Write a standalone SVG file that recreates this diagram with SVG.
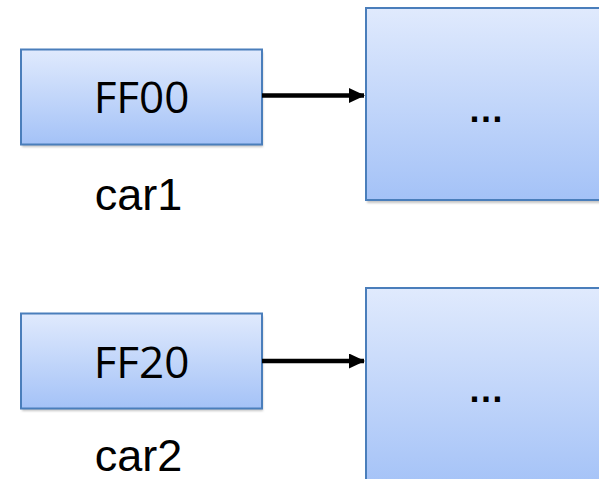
<svg xmlns="http://www.w3.org/2000/svg" width="599" height="479" viewBox="0 0 599 479">
  <defs>
    <linearGradient id="boxFill" x1="0" y1="0" x2="0" y2="1">
      <stop offset="0" stop-color="#e0eafd"/>
      <stop offset="1" stop-color="#a4c2f7"/>
    </linearGradient>
    <filter id="shadow" x="-10%" y="-10%" width="130%" height="130%">
      <feGaussianBlur stdDeviation="1"/>
    </filter>
    <marker id="arrowHead" markerWidth="16" markerHeight="15" refX="15" refY="7.5" orient="auto" markerUnits="userSpaceOnUse">
      <path d="M0,0 L16,7.5 L0,15 Z" fill="#000"/>
    </marker>
    <marker id="arrowHeadShade" markerWidth="16" markerHeight="15" refX="15" refY="7.5" orient="auto" markerUnits="userSpaceOnUse">
      <path d="M0,0 L16,7.5 L0,15 Z" fill="#c8c8c8"/>
    </marker>
  </defs>
  <style>
    .box { fill: url(#boxFill); stroke: #4a7ebb; stroke-width: 2; }
    .shade { fill: #c4c4c4; filter: url(#shadow); }
    .addr { font-family: "Open Sans", "Noto Sans", sans-serif; font-size: 44px; fill: #000; text-anchor: middle; }
    .dots { font-family: "Liberation Sans", Arial, sans-serif; font-weight: bold; font-size: 36px; fill: #000; text-anchor: middle; }
    .name { font-family: "Liberation Sans", Arial, sans-serif; font-size: 45px; fill: #000; text-anchor: middle; }
    .link { stroke: #000; stroke-width: 4.5; fill: none; marker-end: url(#arrowHead); }
    .linkShade { stroke: #c8c8c8; stroke-width: 4.5; fill: none; filter: url(#shadow); marker-end: url(#arrowHeadShade); }
  </style>

  <rect width="599" height="479" fill="#fff"/>

  <!-- pointer cell car1 -->
  <g id="car1">
    <rect class="shade" x="22" y="52" width="241" height="95"/>
    <rect class="box" x="21" y="49.5" width="241" height="95"/>
    <text class="addr" x="141.5" y="113">FF00</text>
    <text class="name" x="138.5" y="209.5">car1</text>
  </g>

  <!-- object referenced by car1 -->
  <g id="object1">
    <rect class="shade" x="367" y="11" width="240" height="192"/>
    <rect class="box" x="366" y="8" width="240" height="192"/>
    <text class="dots" x="486" y="122">…</text>
  </g>

  <!-- pointer cell car2 -->
  <g id="car2">
    <rect class="shade" x="22" y="316" width="241" height="95"/>
    <rect class="box" x="21" y="313.5" width="241" height="95"/>
    <text class="addr" x="141.5" y="378">FF20</text>
    <text class="name" x="138.5" y="470.5">car2</text>
  </g>

  <!-- object referenced by car2 -->
  <g id="object2">
    <rect class="shade" x="367" y="291" width="240" height="200"/>
    <rect class="box" x="366" y="288" width="240" height="200"/>
    <text class="dots" x="486" y="402">…</text>
  </g>

  <!-- references -->
  <g id="connectors">
    <line class="linkShade" x1="263" y1="98.5" x2="362" y2="98.5"/>
    <line class="link" x1="262" y1="95.5" x2="364" y2="95.5"/>
    <line class="linkShade" x1="263" y1="364" x2="362" y2="364"/>
    <line class="link" x1="262" y1="361" x2="364" y2="361"/>
  </g>
</svg>
